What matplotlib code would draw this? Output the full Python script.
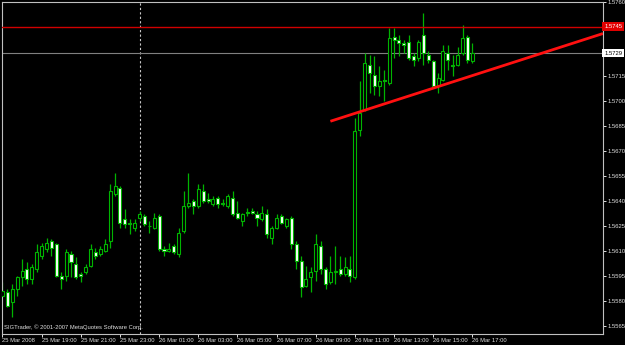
import matplotlib
matplotlib.use("Agg")
import matplotlib.pyplot as plt

# EURUSD-style M15 bars, 25 Mar 17:00 -> 26 Mar 17:00
opens = [1.5583, 1.5585, 1.5579, 1.5587, 1.5594, 1.5599, 1.5593, 1.5599, 1.5607, 1.5611,
         1.5616, 1.5614, 1.5595, 1.5595, 1.5608, 1.5602, 1.5596, 1.5597, 1.5601, 1.5609,
         1.5608, 1.5610, 1.5616, 1.5644, 1.5648, 1.5629, 1.5627, 1.5624, 1.5630, 1.5631,
         1.5625, 1.5624, 1.5631, 1.5611, 1.5610, 1.5613, 1.5608, 1.5622, 1.5637, 1.5640,
         1.5637, 1.5646, 1.5641, 1.5638, 1.5642, 1.5639, 1.5637, 1.5642, 1.5633, 1.5628,
         1.5633, 1.5634, 1.5632, 1.5629, 1.5632, 1.5618, 1.5624, 1.5631, 1.5625, 1.5630,
         1.5614, 1.5604, 1.5589, 1.5594, 1.5598, 1.5613, 1.5599, 1.5591, 1.5597, 1.5599,
         1.5596, 1.5599, 1.5594, 1.5683, 1.5695, 1.5722, 1.5716, 1.5709, 1.5713, 1.5711,
         1.5739, 1.5737, 1.5735, 1.5736, 1.5727, 1.5726, 1.5740, 1.5728, 1.5724, 1.5709,
         1.5713, 1.5729, 1.5722, 1.5722, 1.5729, 1.5739, 1.5724]
highs = [1.5591, 1.5587, 1.5590, 1.5595, 1.5605, 1.5603, 1.5602, 1.5614, 1.5615, 1.5618,
         1.5617, 1.5615, 1.5597, 1.5611, 1.5610, 1.5606, 1.5597, 1.5602, 1.5614, 1.5612,
         1.5613, 1.5617, 1.5650, 1.5657, 1.5649, 1.5635, 1.5629, 1.5629, 1.5634, 1.5632,
         1.5628, 1.5633, 1.5632, 1.5613, 1.5615, 1.5614, 1.5624, 1.5646, 1.5657, 1.5641,
         1.5650, 1.5650, 1.5645, 1.5643, 1.5643, 1.5641, 1.5644, 1.5646, 1.5640, 1.5633,
         1.5636, 1.5636, 1.5634, 1.5637, 1.5635, 1.5625, 1.5632, 1.5632, 1.5630, 1.5631,
         1.5616, 1.5607, 1.5601, 1.5600, 1.5620, 1.5616, 1.5600, 1.5607, 1.5613, 1.5607,
         1.5606, 1.5607, 1.5690, 1.5712, 1.5729, 1.5728, 1.5727, 1.5721, 1.5719, 1.5744,
         1.5744, 1.5740, 1.5737, 1.5740, 1.5729, 1.5737, 1.5753, 1.5730, 1.5725, 1.5717,
         1.5734, 1.5734, 1.5728, 1.5733, 1.5746, 1.5740, 1.5735]
lows = [1.5582, 1.5576, 1.5570, 1.5583, 1.5589, 1.5590, 1.5590, 1.5597, 1.5605, 1.5609,
        1.5607, 1.5594, 1.5587, 1.5592, 1.5594, 1.5593, 1.5591, 1.5596, 1.5600, 1.5605,
        1.5607, 1.5609, 1.5612, 1.5643, 1.5624, 1.5624, 1.5620, 1.5622, 1.5628, 1.5625,
        1.5621, 1.5623, 1.5610, 1.5607, 1.5609, 1.5608, 1.5606, 1.5621, 1.5636, 1.5632,
        1.5636, 1.5639, 1.5639, 1.5637, 1.5636, 1.5637, 1.5636, 1.5631, 1.5629, 1.5625,
        1.5631, 1.5632, 1.5625, 1.5628, 1.5618, 1.5614, 1.5623, 1.5626, 1.5624, 1.5611,
        1.5599, 1.5582, 1.5588, 1.5585, 1.5592, 1.5596, 1.5587, 1.5590, 1.5590, 1.5595,
        1.5595, 1.5591, 1.5593, 1.5679, 1.5694, 1.5705, 1.5704, 1.5703, 1.5700, 1.5710,
        1.5726, 1.5727, 1.5729, 1.5725, 1.5721, 1.5724, 1.5722, 1.5723, 1.5708, 1.5705,
        1.5712, 1.5719, 1.5715, 1.5721, 1.5728, 1.5723, 1.5723]
closes = [1.5586, 1.5577, 1.5587, 1.5594, 1.5598, 1.5593, 1.5600, 1.5609, 1.5613, 1.5615,
          1.5612, 1.5595, 1.5593, 1.5609, 1.5603, 1.5594, 1.5595, 1.5600, 1.5611, 1.5607,
          1.5611, 1.5614, 1.5646, 1.5649, 1.5627, 1.5626, 1.5626, 1.5627, 1.5632, 1.5626,
          1.5625, 1.5630, 1.5611, 1.5610, 1.5611, 1.5609, 1.5621, 1.5637, 1.5639, 1.5637,
          1.5647, 1.5640, 1.5640, 1.5641, 1.5638, 1.5638, 1.5643, 1.5632, 1.5630, 1.5632,
          1.5633, 1.5633, 1.5630, 1.5633, 1.5620, 1.5624, 1.5630, 1.5627, 1.5629, 1.5614,
          1.5604, 1.5588, 1.5593, 1.5597, 1.5614, 1.5599, 1.5590, 1.5597, 1.5598, 1.5596,
          1.5600, 1.5595, 1.5682, 1.5693, 1.5723, 1.5717, 1.5709, 1.5712, 1.5712, 1.5738,
          1.5737, 1.5735, 1.5734, 1.5726, 1.5725, 1.5736, 1.5729, 1.5725, 1.5709, 1.5714,
          1.5730, 1.5725, 1.5721, 1.5728, 1.5738, 1.5725, 1.5729]

time_ticks = [0, 8, 16, 24, 32, 40, 48, 56, 64, 72, 80, 88, 96]
time_labels = ["25 Mar 2008", "25 Mar 19:00", "25 Mar 21:00", "25 Mar 23:00",
               "26 Mar 01:00", "26 Mar 03:00", "26 Mar 05:00", "26 Mar 07:00",
               "26 Mar 09:00", "26 Mar 11:00", "26 Mar 13:00", "26 Mar 15:00",
               "26 Mar 17:00"]
price_ticks = [1.5565, 1.5580, 1.5595, 1.5610, 1.5625, 1.5640, 1.5655, 1.5670,
               1.5685, 1.5700, 1.5715, 1.5760]
day_break = 28
resistance = 1.5745
bid = 1.5729
trend_bars = [67, 96]
trend_prices = [1.5688, 1.57155]

FONT = 'Liberation Sans'
FS = 4.2
GREEN = '#00b400'

fig = plt.figure(figsize=(6.25, 3.45), dpi=100, facecolor='black')
ax = fig.add_axes([2 / 625, 1 - 334.3 / 345, 601 / 625, 332.8 / 345])
ax.set_facecolor('black')

n = len(opens)
xs = list(range(n))
ax.vlines(xs, lows, highs, color=GREEN, lw=0.9, zorder=2)
for i in xs:
    o, c = opens[i], closes[i]
    bottom = min(o, c)
    h = max(abs(c - o), 0.00002)
    fill = 'black' if c > o else 'white'
    ax.bar(i, h, bottom=bottom, width=0.62, color=fill, edgecolor=GREEN,
           linewidth=0.8, zorder=3)

ax.axvline(day_break, color='#c8c8c8', lw=0.8, ls=(0, (2, 2)), zorder=1)
ax.axhline(resistance, color='#d00000', lw=1.0, zorder=4)
ax.axhline(bid, color='#808080', lw=0.8, zorder=1)

# trend line as a ray to the right edge
x_right = 122.7
slope = (trend_prices[1] - trend_prices[0]) / (trend_bars[1] - trend_bars[0])
ax.plot([trend_bars[0], x_right],
        [trend_prices[0], trend_prices[0] + slope * (x_right - trend_bars[0])],
        color='#ff1010', lw=2.0, solid_capstyle='butt', zorder=5)

ax.set_xlim(-0.1, x_right)
ax.set_ylim(1.555975, 1.57601)

for s in ax.spines.values():
    s.set_color('#c0c0c0')
    s.set_linewidth(0.8)

ax.yaxis.tick_right()
ax.set_yticks(price_ticks)
ax.set_yticklabels(['%.4f' % p for p in price_ticks])
ax.set_xticks(time_ticks)
ax.set_xticklabels(time_labels)
ax.tick_params(colors='#e0e0e0', length=2.0, width=0.7, labelsize=FS, pad=1)
for lab in ax.get_xticklabels():
    lab.set_horizontalalignment('left')
    lab.set_family(FONT)
for lab in ax.get_yticklabels():
    lab.set_family(FONT)

ytr = ax.get_yaxis_transform()
ax.text(1.002, resistance, '%.4f' % resistance, transform=ytr, fontsize=FS,
        family=FONT, color='white', va='center', ha='left',
        bbox=dict(boxstyle='square,pad=0.3', fc='#e00000', ec='none'), clip_on=False)
ax.text(1.002, bid, '%.4f' % bid, transform=ytr, fontsize=FS,
        family=FONT, color='black', va='center', ha='left',
        bbox=dict(boxstyle='square,pad=0.3', fc='white', ec='none'), clip_on=False)

ax.text(0.003, 0.022, 'SIGTrader, \u00a9 2001-2007 MetaQuotes Software Corp.',
        transform=ax.transAxes, fontsize=FS, family=FONT, color='#e0e0e0',
        va='center', ha='left')

fig.savefig('out.png', dpi=100, facecolor='black')
